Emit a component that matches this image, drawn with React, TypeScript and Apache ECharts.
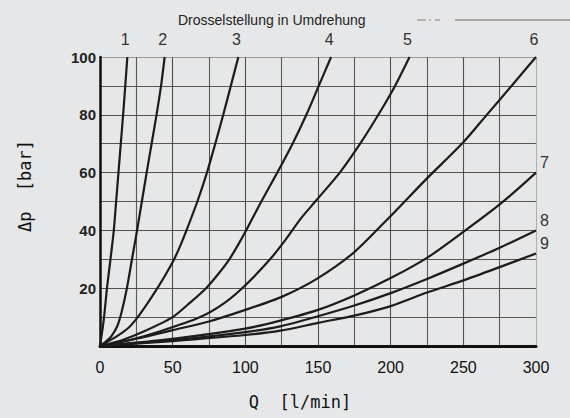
import React, { useEffect, useRef } from "react";
import * as echarts from "echarts";

// Flow Q [l/min] vs pressure drop Δp [bar] for throttle settings 1..9
const curveNames = ["1", "2", "3", "4", "5", "6", "7", "8", "9"];

const curve1 = [[0, 0], [1.5, 5], [2.8, 10], [4.8, 20], [7.2, 30], [9.5, 40], [11.1, 50], [12.7, 60], [14.3, 70], [15.9, 80], [17.4, 90], [18.8, 100]];
const curve2 = [[0, 0], [4, 1.5], [8, 3.5], [12, 7], [15, 12], [18.5, 20], [22, 30], [25.5, 40], [28.8, 50], [32.1, 60], [35.5, 70], [38.9, 80], [42, 90], [44.5, 100]];
const curve3 = [[0, 0], [12, 3.5], [20, 6.5], [26, 10], [33, 15], [39.5, 20], [45.5, 25], [51, 30], [55.5, 35], [59.5, 40], [67, 50], [73.6, 60], [79.3, 70], [84.8, 80], [90, 90], [95.2, 100]];
const curve4 = [[0, 0], [15, 2], [30, 5], [50, 10], [62, 15], [73, 20], [81.5, 25], [89, 30], [95, 35], [100.5, 40], [111, 50], [122, 60], [132.5, 70], [142, 80], [150.5, 90], [159, 100]];
const curve5 = [[0, 0], [20, 2], [41, 5], [69, 10], [86, 15], [100, 21], [117, 30], [128, 37], [138, 44], [149, 50.5], [165, 60], [179, 70], [191.5, 80], [203, 90], [213, 100]];
const curve6 = [[0, 0], [25, 2.5], [50, 5.5], [75, 8.5], [100, 12.5], [125, 17], [150, 23.5], [175, 32.5], [200, 45], [225, 58], [250, 70.5], [267, 80.5], [284, 90.5], [300, 100]];
const curve7 = [[0, 0], [50, 2.5], [100, 6], [124, 8.8], [150, 12.5], [175, 17.5], [200, 23.5], [225, 30.5], [250, 39.5], [275, 49], [300, 60]];
const curve8 = [[0, 0], [50, 2], [100, 4.8], [124, 6.8], [150, 10.3], [175, 14], [200, 18.3], [225, 23.2], [250, 28.5], [275, 34], [300, 40]];
const curve9 = [[0, 0], [50, 1.7], [100, 3.8], [124, 5.3], [150, 8], [175, 10.5], [200, 13.8], [225, 18.5], [250, 22.7], [275, 27.3], [300, 32]];

const curves = [curve1, curve2, curve3, curve4, curve5, curve6, curve7, curve8, curve9];

const xTickLabels = ["0", "50", "100", "150", "200", "250", "300"];
const yTickLabels = ["20", "40", "60", "80", "100"];

const BG = "#e6e7e8";

export default function App() {
  const ref = useRef<HTMLDivElement>(null);

  useEffect(() => {
    if (!ref.current) return;
    const chart = echarts.init(ref.current, null, { renderer: "svg" });

    const series = curves.map((pts, i) => {
      const topLabel = i < 6;
      const data = pts.map((p, j) => {
        if (j === pts.length - 1) {
          return {
            value: p,
            label: {
              show: true,
              formatter: curveNames[i],
              position: topLabel ? "top" : "right",
              distance: topLabel ? 10 : 4,
              offset: topLabel ? [-2, 0] : [0, -10],
              fontFamily: "Liberation Sans",
              fontSize: 16,
              color: "#333",
            },
          };
        }
        return { value: p };
      });
      return {
        type: "line",
        name: curveNames[i],
        data,
        smooth: 0.25,
        showSymbol: true,
        symbol: "circle",
        symbolSize: 0,
        label: { show: false },
        lineStyle: { color: "#1c1c1c", width: 2.2 },
        itemStyle: { color: "#1c1c1c" },
        emphasis: { disabled: true },
        z: 5,
      };
    });

    const xSplitColors = ["#505050", "#595959", "#505050", "#595959", "#505050", "#595959", "#505050", "#595959", "#505050", "#595959", "#505050", "#595959", "#b0b0b0"];
    const ySplitColors = ["#505050", "#565656", "#505050", "#565656", "#505050", "#565656", "#505050", "#565656", "#505050", "#565656", "#9a9a9a"];

    chart.setOption({
      animation: false,
      backgroundColor: BG,
      title: {
        text: "Drosselstellung in Umdrehung",
        left: 173,
        top: 8,
        textStyle: { fontFamily: "Liberation Sans", fontSize: 14, fontWeight: "normal", color: "#222" },
      },
      grid: { left: 100, right: 34, top: 57, bottom: 72 },
      xAxis: {
        type: "value",
        min: 0,
        max: 300,
        interval: 25,
        name: "Q  [l/min]",
        nameLocation: "middle",
        nameGap: 47,
        nameTextStyle: {
          fontFamily: "DejaVu Sans Mono",
          fontSize: 17,
          color: "#111",
          padding: [0, 36, 0, 0],
        },
        axisLine: { show: true, onZero: false, lineStyle: { color: "#111", width: 3 } },
        axisTick: { show: false },
        axisLabel: {
          margin: 13,
          fontFamily: "Liberation Sans",
          fontSize: 16,
          color: "#111",
          formatter: (v: number) => {
            const s = String(v);
            return xTickLabels.includes(s) ? s : "";
          },
        },
        splitLine: { show: true, lineStyle: { color: xSplitColors, width: 1.1 } },
      },
      yAxis: {
        type: "value",
        min: 0,
        max: 100,
        interval: 10,
        axisLine: { show: true, lineStyle: { color: "#111", width: 2.5 } },
        axisTick: { show: false },
        axisLabel: {
          margin: 4,
          fontFamily: "Liberation Sans",
          fontSize: 15,
          fontWeight: "bold",
          color: "#222",
          formatter: (v: number) => {
            const s = String(v);
            return yTickLabels.includes(s) ? s : "";
          },
        },
        splitLine: { show: true, lineStyle: { color: ySplitColors, width: 1.1 } },
      },
      graphic: [
        {
          type: "text",
          x: 25,
          y: 186,
          rotation: Math.PI / 2,
          style: {
            text: "Δp  [bar]",
            fontFamily: "DejaVu Sans Mono",
            fontSize: 17,
            fill: "#111",
            align: "center",
            verticalAlign: "middle",
          },
        },
        { type: "line", shape: { x1: 417, y1: 20, x2: 426, y2: 20 }, style: { stroke: "#a0a0a0", lineWidth: 1.5 } },
        { type: "line", shape: { x1: 429, y1: 20, x2: 431, y2: 20 }, style: { stroke: "#a0a0a0", lineWidth: 1.5 } },
        { type: "line", shape: { x1: 435, y1: 20, x2: 440, y2: 20 }, style: { stroke: "#a0a0a0", lineWidth: 1.5 } },
        { type: "line", shape: { x1: 455, y1: 20, x2: 570, y2: 20 }, style: { stroke: "#a8a8a8", lineWidth: 2 } },
      ],
      series,
    });

    return () => chart.dispose();
  }, []);

  return (
    <div
      ref={ref}
      style={{ position: "fixed", left: 0, top: 0, width: 570, height: 418, background: BG }}
    />
  );
}
